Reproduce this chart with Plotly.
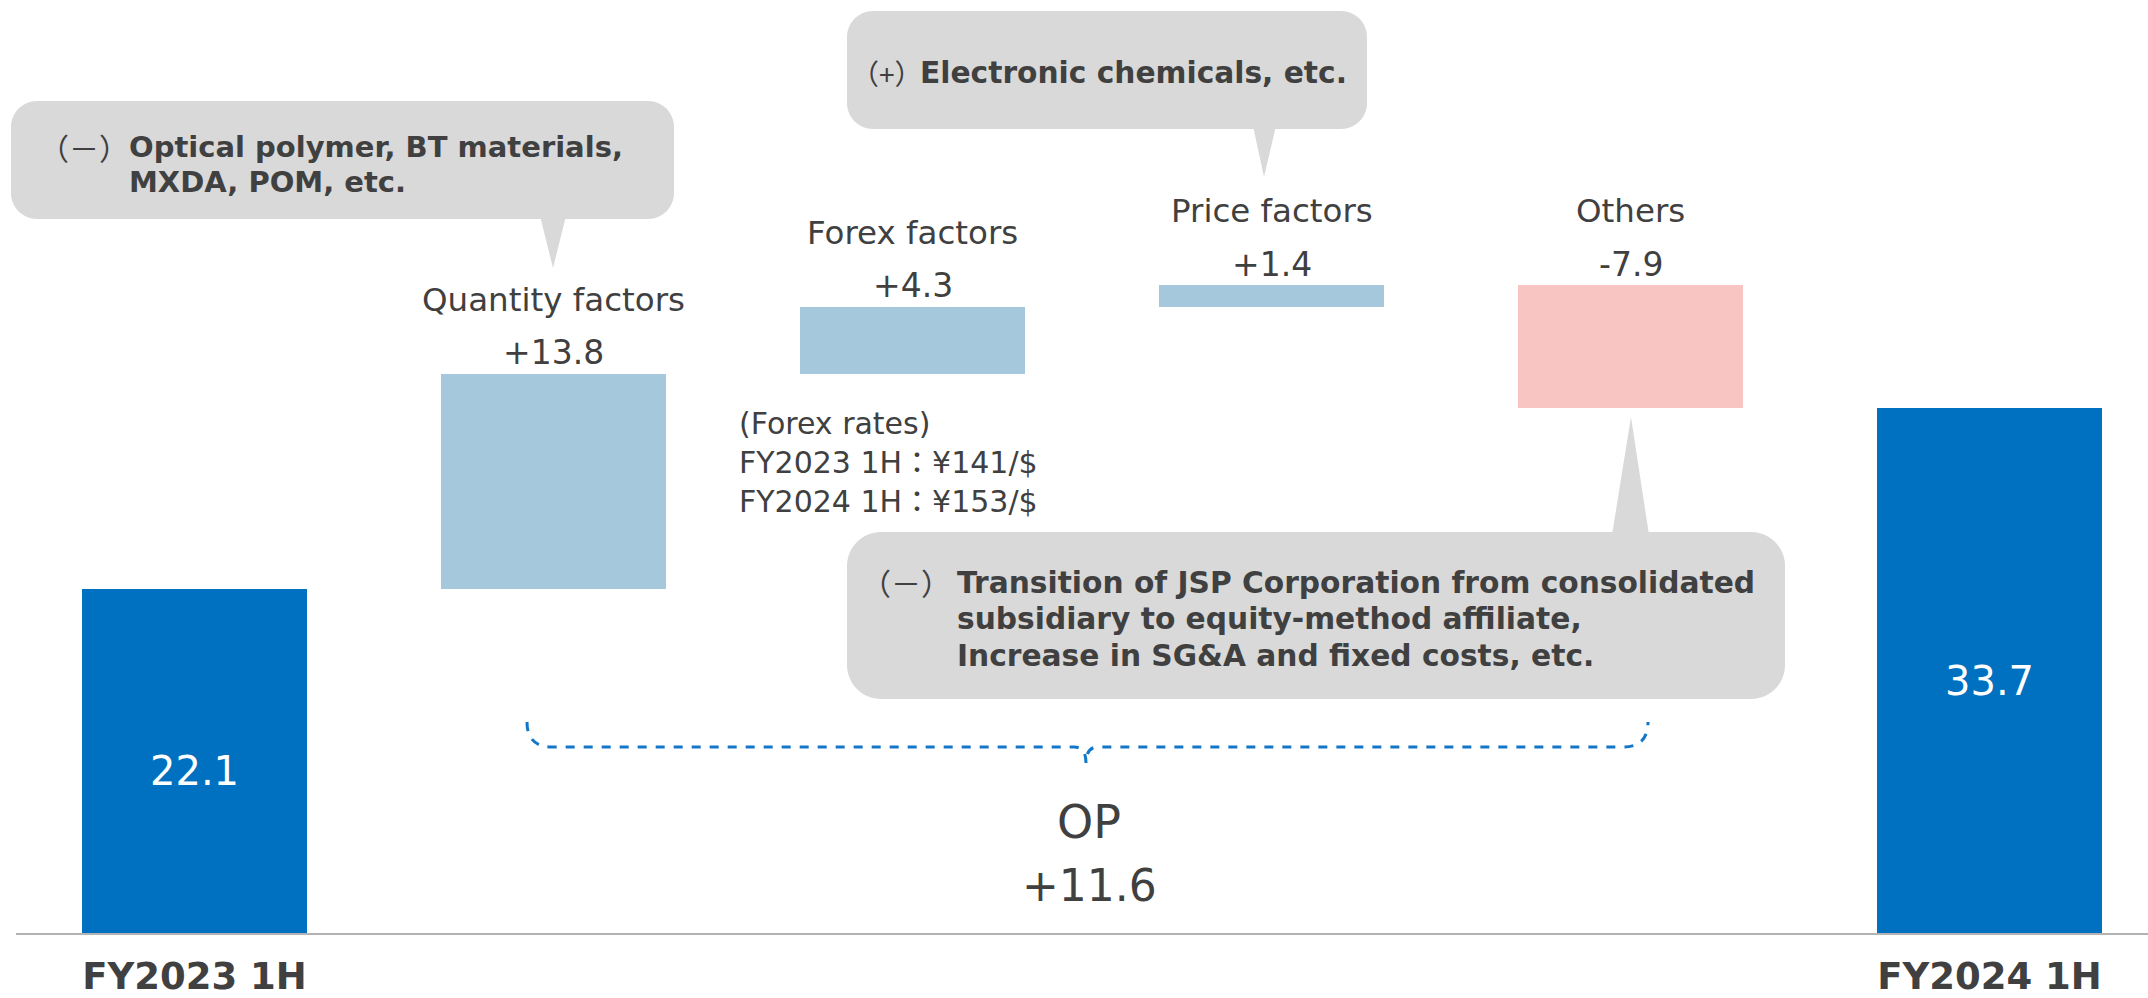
import plotly.graph_objects as go

# ---------------- data ----------------
categories = ["FY2023 1H", "Quantity factors", "Forex factors", "Price factors", "Others", "FY2024 1H"]
values = [22.1, 13.8, 4.3, 1.4, -7.9, 33.7]
kinds = ["total", "delta", "delta", "delta", "delta", "total"]
op_change_label = ["OP", "+11.6"]
forex_note = ["(Forex rates)", "FY2023 1H：¥141/$", "FY2024 1H：¥153/$"]
callout_quantity = ["（－）", ["Optical polymer, BT materials,", "MXDA, POM, etc."]]
callout_price = ["（+）", ["Electronic chemicals, etc."]]
callout_others = ["（－）", ["Transition of JSP Corporation from consolidated",
                            "subsidiary to equity-method affiliate,",
                            "Increase in SG&amp;A and fixed costs, etc."]]

# ---------------- styling ----------------
W, H = 2148, 998
L, R, T, B = 16, 0, 0, 65
PW, PH = W - L - R, H - T - B
FONT = "DejaVu Sans, Noto Sans CJK JP, sans-serif"
CJK = "Noto Sans CJK JP, sans-serif"
TXT = "#404040"
C_TOTAL = "#0070C0"
C_POS = "#A5C8DD"
C_NEG = "#F9C5C3"
C_BOX = "#D9D9D9"
C_BRACE = "#1277C9"


def px(x):
    return (x - L) / PW


def py(y):
    return (H - B - y) / PH


# waterfall bases
bases, colors = [], []
running = 0.0
for v, k in zip(values, kinds):
    if k == "total":
        bases.append(0.0)
        colors.append(C_TOTAL)
        running = v
    else:
        bases.append(running)
        colors.append(C_POS if v >= 0 else C_NEG)
        running += v

xs = list(range(len(categories)))
fig = go.Figure()
fig.add_trace(go.Bar(
    x=xs, y=values, base=bases, width=0.627,
    marker=dict(color=colors, line=dict(width=0)),
    hoverinfo="skip", showlegend=False,
))

annotations = []
for i, (v, k, b, c) in enumerate(zip(values, kinds, bases, categories)):
    if k == "total":
        annotations.append(dict(x=i, y=v / 2, xref="x", yref="y", text=f"{v:.1f}",
                                showarrow=False, yshift=-10, yanchor="middle",
                                font=dict(family=FONT, size=40, color="white")))
    else:
        top = max(b, b + v)
        annotations.append(dict(x=i, y=top, xref="x", yref="y", text=f"{v:+.1f}",
                                showarrow=False, yshift=21, yanchor="middle",
                                font=dict(family=FONT, size=33, color=TXT)))
        annotations.append(dict(x=i, y=top, xref="x", yref="y", text=c,
                                showarrow=False, yshift=74, yanchor="middle",
                                font=dict(family=FONT, size=32.5, color=TXT)))


def txt(x, y, s, size, anchor="left", family=FONT, weight="normal", color=TXT):
    annotations.append(dict(x=px(x), y=py(y), xref="paper", yref="paper", text=s,
                            showarrow=False, xanchor=anchor, yanchor="middle", align="left",
                            font=dict(family=family, size=size, color=color, weight=weight)))


# OP change
txt(1089, 822, op_change_label[0], 46, anchor="center")
txt(1089, 885, op_change_label[1], 44, anchor="center")

# forex note (one multi-line text block)
txt(737, 462, "<br>".join(forex_note), 30)

# callout texts
txt(37, 147, callout_quantity[0], 30, family=CJK)
for line, yy in zip(callout_quantity[1], [147, 182]):
    txt(127, yy, line, 29, weight="bold")
txt(849, 73, callout_price[0], 28, family=CJK)
for line, yy in zip(callout_price[1], [73]):
    txt(918, yy, line, 29.7, weight="bold")
txt(859, 582, callout_others[0], 30, family=CJK)
for line, yy in zip(callout_others[1], [582, 618, 655]):
    txt(955, yy, line, 29.7, weight="bold")


def P(x, y):
    return f"{px(x):.5f},{py(y):.5f}"


def rrect(x0, y0, x1, y1, r):
    k = 0.5523 * r
    return (f"M {P(x0 + r, y0)} L {P(x1 - r, y0)} C {P(x1 - r + k, y0)} {P(x1, y0 + r - k)} {P(x1, y0 + r)} "
            f"L {P(x1, y1 - r)} C {P(x1, y1 - r + k)} {P(x1 - r + k, y1)} {P(x1 - r, y1)} "
            f"L {P(x0 + r, y1)} C {P(x0 + r - k, y1)} {P(x0, y1 - r + k)} {P(x0, y1 - r)} "
            f"L {P(x0, y0 + r)} C {P(x0, y0 + r - k)} {P(x0 + r - k, y0)} {P(x0 + r, y0)} Z")


def tri(a, b, c):
    return f"M {P(*a)} L {P(*b)} L {P(*c)} Z"


shapes = []
box = dict(type="path", xref="paper", yref="paper", fillcolor=C_BOX, line=dict(width=0), layer="below")
shapes.append(dict(box, path=rrect(11, 101, 674, 219, 26)))
shapes.append(dict(box, path=tri((540, 216), (566, 216), (553, 268))))
shapes.append(dict(box, path=rrect(847, 11, 1367, 129, 26)))
shapes.append(dict(box, path=tri((1253, 126), (1276, 126), (1264, 177))))
shapes.append(dict(box, path=rrect(847, 532, 1785, 699, 34)))
shapes.append(dict(box, path=tri((1612, 535), (1649, 535), (1631, 417))))

# brace
brace = (f"M {P(527, 722)} Q {P(527, 747)} {P(552, 747)} L {P(1074, 747)} "
         f"Q {P(1086, 747)} {P(1086, 763)} Q {P(1086, 747)} {P(1098, 747)} "
         f"L {P(1623, 747)} Q {P(1648, 747)} {P(1648, 722)}")
shapes.append(dict(type="path", xref="paper", yref="paper", path=brace,
                   line=dict(color=C_BRACE, width=3, dash="dash")))

fig.update_layout(
    width=W, height=H,
    margin=dict(l=L, r=R, t=T, b=B, autoexpand=False),
    paper_bgcolor="white", plot_bgcolor="white",
    bargap=0,
    xaxis=dict(range=[-0.4972, 5.4415], showgrid=False, zeroline=False,
               showline=True, linecolor="#B3B3B3", linewidth=2,
               tickvals=[0, 5], ticktext=[categories[0], categories[5]],
               ticks="", ticklabelstandoff=10,
               tickfont=dict(family=FONT, size=37, color=TXT, weight="bold"),
               fixedrange=True),
    yaxis=dict(range=[0, 59.9], visible=False, fixedrange=True),
    annotations=annotations,
    shapes=shapes,
    showlegend=False,
)

fig.write_html("out.html", config={"displayModeBar": False},
               post_script="document.body.style.margin='0px';document.body.style.overflow='hidden';")
